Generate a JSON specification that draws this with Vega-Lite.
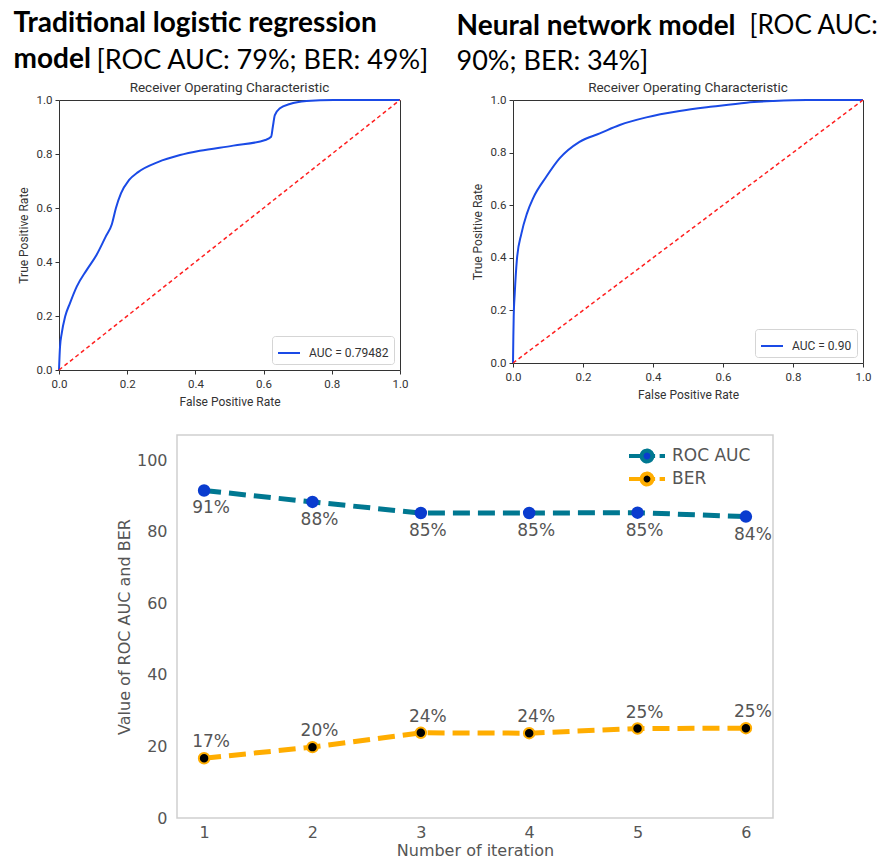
{
  "$schema": "https://vega.github.io/schema/vega-lite/v6.json",
  "background": "white",
  "padding": {"left": 13, "top": 10, "right": 0, "bottom": 0},
  "config": {"view": {"stroke": null}, "axis": {"grid": false}, "font": "DejaVu Sans"},
  "resolve": {"scale": {"color": "independent", "fill": "independent", "stroke": "independent"}, "legend": {"color": "independent"}},
  "datasets": {
    "rocLR": [
      {"fpr": 0, "tpr": 0, "curve": "AUC = 0.79482"},
      {"fpr": 0.003, "tpr": 0.086, "curve": "AUC = 0.79482"},
      {"fpr": 0.008, "tpr": 0.136, "curve": "AUC = 0.79482"},
      {"fpr": 0.018, "tpr": 0.198, "curve": "AUC = 0.79482"},
      {"fpr": 0.032, "tpr": 0.247, "curve": "AUC = 0.79482"},
      {"fpr": 0.052, "tpr": 0.309, "curve": "AUC = 0.79482"},
      {"fpr": 0.081, "tpr": 0.37, "curve": "AUC = 0.79482"},
      {"fpr": 0.11, "tpr": 0.426, "curve": "AUC = 0.79482"},
      {"fpr": 0.137, "tpr": 0.494, "curve": "AUC = 0.79482"},
      {"fpr": 0.155, "tpr": 0.54, "curve": "AUC = 0.79482"},
      {"fpr": 0.167, "tpr": 0.6, "curve": "AUC = 0.79482"},
      {"fpr": 0.182, "tpr": 0.655, "curve": "AUC = 0.79482"},
      {"fpr": 0.205, "tpr": 0.703, "curve": "AUC = 0.79482"},
      {"fpr": 0.232, "tpr": 0.733, "curve": "AUC = 0.79482"},
      {"fpr": 0.29, "tpr": 0.77, "curve": "AUC = 0.79482"},
      {"fpr": 0.355, "tpr": 0.796, "curve": "AUC = 0.79482"},
      {"fpr": 0.413, "tpr": 0.812, "curve": "AUC = 0.79482"},
      {"fpr": 0.511, "tpr": 0.831, "curve": "AUC = 0.79482"},
      {"fpr": 0.605, "tpr": 0.852, "curve": "AUC = 0.79482"},
      {"fpr": 0.622, "tpr": 0.864, "curve": "AUC = 0.79482"},
      {"fpr": 0.627, "tpr": 0.9, "curve": "AUC = 0.79482"},
      {"fpr": 0.633, "tpr": 0.944, "curve": "AUC = 0.79482"},
      {"fpr": 0.648, "tpr": 0.969, "curve": "AUC = 0.79482"},
      {"fpr": 0.677, "tpr": 0.985, "curve": "AUC = 0.79482"},
      {"fpr": 0.726, "tpr": 0.996, "curve": "AUC = 0.79482"},
      {"fpr": 0.805, "tpr": 1.0, "curve": "AUC = 0.79482"},
      {"fpr": 1.0, "tpr": 1.0, "curve": "AUC = 0.79482"}
    ],
    "rocNN": [
      {"fpr": 0, "tpr": 0, "curve": "AUC = 0.90"},
      {"fpr": 0.001, "tpr": 0.1, "curve": "AUC = 0.90"},
      {"fpr": 0.002, "tpr": 0.175, "curve": "AUC = 0.90"},
      {"fpr": 0.005, "tpr": 0.264, "curve": "AUC = 0.90"},
      {"fpr": 0.011, "tpr": 0.391, "curve": "AUC = 0.90"},
      {"fpr": 0.024, "tpr": 0.492, "curve": "AUC = 0.90"},
      {"fpr": 0.04, "tpr": 0.569, "curve": "AUC = 0.90"},
      {"fpr": 0.058, "tpr": 0.628, "curve": "AUC = 0.90"},
      {"fpr": 0.095, "tpr": 0.708, "curve": "AUC = 0.90"},
      {"fpr": 0.133, "tpr": 0.778, "curve": "AUC = 0.90"},
      {"fpr": 0.19, "tpr": 0.841, "curve": "AUC = 0.90"},
      {"fpr": 0.248, "tpr": 0.873, "curve": "AUC = 0.90"},
      {"fpr": 0.305, "tpr": 0.905, "curve": "AUC = 0.90"},
      {"fpr": 0.381, "tpr": 0.934, "curve": "AUC = 0.90"},
      {"fpr": 0.476, "tpr": 0.958, "curve": "AUC = 0.90"},
      {"fpr": 0.571, "tpr": 0.975, "curve": "AUC = 0.90"},
      {"fpr": 0.667, "tpr": 0.99, "curve": "AUC = 0.90"},
      {"fpr": 0.743, "tpr": 0.996, "curve": "AUC = 0.90"},
      {"fpr": 0.838, "tpr": 1.0, "curve": "AUC = 0.90"},
      {"fpr": 1.0, "tpr": 1.0, "curve": "AUC = 0.90"}
    ],
    "diag": [
      {"fpr": 0, "tpr": 0},
      {"fpr": 1, "tpr": 1}
    ],
    "iter": [
      {"iteration": 1, "metric": "ROC AUC", "value": 91.5, "label": "91%"},
      {"iteration": 2, "metric": "ROC AUC", "value": 88.3, "label": "88%"},
      {"iteration": 3, "metric": "ROC AUC", "value": 85.2, "label": "85%"},
      {"iteration": 4, "metric": "ROC AUC", "value": 85.2, "label": "85%"},
      {"iteration": 5, "metric": "ROC AUC", "value": 85.3, "label": "85%"},
      {"iteration": 6, "metric": "ROC AUC", "value": 84.2, "label": "84%"},
      {"iteration": 1, "metric": "BER", "value": 16.7, "label": "17%"},
      {"iteration": 2, "metric": "BER", "value": 19.8, "label": "20%"},
      {"iteration": 3, "metric": "BER", "value": 23.8, "label": "24%"},
      {"iteration": 4, "metric": "BER", "value": 23.7, "label": "24%"},
      {"iteration": 5, "metric": "BER", "value": 25.0, "label": "25%"},
      {"iteration": 6, "metric": "BER", "value": 25.1, "label": "25%"}
    ]
  },
  "spacing": 26,
  "vconcat": [
    {
      "spacing": 454,
      "bounds": "flush",
      "resolve": {"scale": {"color": "independent"}, "legend": {"color": "independent"}},
      "hconcat": [
        {
          "title": {"text": ["Traditional logistic regression", "model"], "anchor": "start", "frame": "bounds", "font": "Lato", "fontSize": 28, "fontWeight": "bold", "color": "#000", "lineHeight": 36, "offset": -27, "dx": -3},
          "resolve": {"scale": {"color": "independent"}, "legend": {"color": "independent"}},
          "vconcat": [
            {
              "title": {"text": "[ROC AUC: 79%; BER: 49%]", "anchor": "start", "frame": "bounds", "font": "Lato", "fontSize": 27, "fontWeight": "normal", "color": "#000", "offset": 5, "dx": 80},
              "resolve": {"scale": {"color": "independent"}, "legend": {"color": "independent"}},
              "vconcat": [
                {
                  "width": 341,
                  "height": 270,
                  "title": {"text": "Receiver Operating Characteristic", "font": "Roboto", "fontSize": 13.5, "fontWeight": "normal", "color": "#333", "offset": 0},
                  "view": {"stroke": "#333", "strokeWidth": 1},
                  "layer": [
                    {
                      "data": {"name": "rocLR"},
                      "mark": {"type": "line", "strokeWidth": 2, "interpolate": "monotone"},
                      "encoding": {
                        "x": {"field": "fpr", "type": "quantitative", "scale": {"domain": [0, 1], "nice": false, "zero": false},
                          "axis": {"title": "False Positive Rate", "values": [0, 0.2, 0.4, 0.6, 0.8, 1], "format": ".1f", "domain": false, "tickSize": 4, "tickColor": "#333", "labelFont": "Roboto", "labelFontSize": 11.5, "labelColor": "#333", "labelPadding": 4, "labelFlush": false, "labelOverlap": false, "titleFont": "Roboto", "titleFontSize": 12, "titleFontWeight": "normal", "titleColor": "#333", "titlePadding": 7}},
                        "y": {"field": "tpr", "type": "quantitative", "scale": {"domain": [0, 1], "nice": false, "zero": false},
                          "axis": {"title": "True Positive Rate", "values": [0, 0.2, 0.4, 0.6, 0.8, 1], "format": ".1f", "domain": false, "tickSize": 4, "tickColor": "#333", "labelFont": "Roboto", "labelFontSize": 11.5, "labelColor": "#333", "labelPadding": 3, "labelFlush": false, "labelOverlap": false, "titleFont": "Roboto", "titleFontSize": 12, "titleFontWeight": "normal", "titleColor": "#333", "titlePadding": 6}},
                        "color": {"field": "curve", "type": "nominal", "scale": {"range": ["#1a4ae6"]},
                          "legend": {"title": null, "orient": "bottom-right", "offset": 6, "padding": 5, "strokeColor": "#d5d5d5", "fillColor": "white", "cornerRadius": 3, "symbolType": "stroke", "symbolSize": 484, "symbolStrokeWidth": 2, "labelFont": "Roboto", "labelFontSize": 12, "labelColor": "#333", "labelOffset": 8}}
                      }
                    },
                    {
                      "data": {"name": "diag"},
                      "mark": {"type": "line", "color": "#ff1f1f", "strokeWidth": 1.5, "strokeDash": [4, 3]},
                      "encoding": {"x": {"field": "fpr", "type": "quantitative"}, "y": {"field": "tpr", "type": "quantitative"}}
                    }
                  ]
                }
              ]
            }
          ]
        },
        {
          "title": {"text": "Neural network model", "subtitle": "90%; BER: 34%]", "anchor": "start", "frame": "bounds", "font": "Lato", "fontSize": 28, "fontWeight": "bold", "color": "#000", "subtitleFont": "Lato", "subtitleFontSize": 27, "subtitleFontWeight": "normal", "subtitleColor": "#000", "subtitlePadding": 8, "offset": -62, "dx": -14},
          "resolve": {"scale": {"color": "independent"}, "legend": {"color": "independent"}},
          "vconcat": [
            {
              "title": {"text": "[ROC AUC:", "anchor": "start", "frame": "bounds", "font": "Lato", "fontSize": 26, "fontWeight": "normal", "color": "#000", "offset": 41, "dx": 279},
              "resolve": {"scale": {"color": "independent"}, "legend": {"color": "independent"}},
              "vconcat": [
                {
                  "width": 350,
                  "height": 263,
                  "title": {"text": "Receiver Operating Characteristic", "font": "Roboto", "fontSize": 13.5, "fontWeight": "normal", "color": "#333", "offset": 0},
                  "view": {"stroke": "#333", "strokeWidth": 1},
                  "layer": [
                    {
                      "data": {"name": "rocNN"},
                      "mark": {"type": "line", "strokeWidth": 2, "interpolate": "monotone"},
                      "encoding": {
                        "x": {"field": "fpr", "type": "quantitative", "scale": {"domain": [0, 1], "nice": false, "zero": false},
                          "axis": {"title": "False Positive Rate", "values": [0, 0.2, 0.4, 0.6, 0.8, 1], "format": ".1f", "domain": false, "tickSize": 4, "tickColor": "#333", "labelFont": "Roboto", "labelFontSize": 11.5, "labelColor": "#333", "labelPadding": 4, "labelFlush": false, "labelOverlap": false, "titleFont": "Roboto", "titleFontSize": 12, "titleFontWeight": "normal", "titleColor": "#333", "titlePadding": 7}},
                        "y": {"field": "tpr", "type": "quantitative", "scale": {"domain": [0, 1], "nice": false, "zero": false},
                          "axis": {"title": "True Positive Rate", "values": [0, 0.2, 0.4, 0.6, 0.8, 1], "format": ".1f", "domain": false, "tickSize": 4, "tickColor": "#333", "labelFont": "Roboto", "labelFontSize": 11.5, "labelColor": "#333", "labelPadding": 3, "labelFlush": false, "labelOverlap": false, "titleFont": "Roboto", "titleFontSize": 12, "titleFontWeight": "normal", "titleColor": "#333", "titlePadding": 6}},
                        "color": {"field": "curve", "type": "nominal", "scale": {"range": ["#1a4ae6"]},
                          "legend": {"title": null, "orient": "bottom-right", "offset": 6, "padding": 5, "strokeColor": "#d5d5d5", "fillColor": "white", "cornerRadius": 3, "symbolType": "stroke", "symbolSize": 484, "symbolStrokeWidth": 2, "labelFont": "Roboto", "labelFontSize": 12, "labelColor": "#333", "labelOffset": 8}}
                      }
                    },
                    {
                      "data": {"name": "diag"},
                      "mark": {"type": "line", "color": "#ff1f1f", "strokeWidth": 1.5, "strokeDash": [4, 3]},
                      "encoding": {"x": {"field": "fpr", "type": "quantitative"}, "y": {"field": "tpr", "type": "quantitative"}}
                    }
                  ]
                }
              ]
            }
          ]
        }
      ]
    },
    {
      "spacing": 0,
      "bounds": "flush",
      "resolve": {"scale": {"color": "independent", "fill": "independent", "stroke": "independent"}, "legend": {"color": "independent"}},
      "hconcat": [
        {"width": 118, "height": 10, "data": {"values": []}, "mark": "point", "encoding": {}},
        {
          "width": 596,
          "height": 383,
          "view": {"stroke": "#cfcfcf", "strokeWidth": 1.5},
          "data": {"name": "iter"},
          "encoding": {
            "x": {"field": "iteration", "type": "quantitative", "scale": {"domain": [0.75, 6.25], "nice": false, "zero": false},
              "axis": {"values": [1, 2, 3, 4, 5, 6], "title": "Number of iteration", "domain": false, "ticks": false, "labelFont": "DejaVu Sans", "labelFontSize": 16, "labelColor": "#555", "labelPadding": 6, "labelFlush": false, "titleFont": "DejaVu Sans", "titleFontSize": 16, "titleFontWeight": "normal", "titleColor": "#555", "titlePadding": 2}},
            "y": {"field": "value", "type": "quantitative", "scale": {"domain": [0, 107], "nice": false},
              "axis": {"values": [0, 20, 40, 60, 80, 100], "title": "Value of ROC AUC and BER", "domain": false, "ticks": false, "labelFont": "DejaVu Sans", "labelFontSize": 16, "labelColor": "#555", "labelPadding": 10, "labelFlush": false, "titleFont": "DejaVu Sans", "titleFontSize": 16, "titleFontWeight": "normal", "titleColor": "#555", "titlePadding": 4}}
          },
          "layer": [
            {
              "mark": {"type": "line", "strokeWidth": 5, "strokeDash": [17, 8]},
              "encoding": {
                "color": {"field": "metric", "type": "nominal", "scale": {"domain": ["ROC AUC", "BER"], "range": ["#007891", "#ffad00"]},
                  "legend": {"title": null, "orient": "none", "legendX": 450, "legendY": 11, "padding": 0, "labelFont": "DejaVu Sans", "labelFontSize": 17, "labelColor": "#555", "labelOffset": 5, "symbolType": "M-1,0H-0.3M0.3,0H0.45M0.7,0H1M-0.3,0A0.3,0.3 0 1 0 0.3,0A0.3,0.3 0 1 0 -0.3,0", "symbolSize": 1296, "symbolStrokeWidth": 4, "clipHeight": 20, "rowPadding": 3,
                    "encode": {"symbols": {"update": {"fill": {"signal": "datum.value === 'ROC AUC' ? '#0a3ccf' : '#000000'"}, "strokeDash": {"value": [1, 0]}}}}}}
              }
            },
            {
              "mark": {"type": "point", "filled": true, "size": 110, "strokeWidth": 2, "opacity": 1},
              "encoding": {
                "fill": {"field": "metric", "type": "nominal", "scale": {"domain": ["ROC AUC", "BER"], "range": ["#0a3ccf", "#000000"]}, "legend": null},
                "stroke": {"field": "metric", "type": "nominal", "scale": {"domain": ["ROC AUC", "BER"], "range": ["#0a3ccf", "#ffad00"]}, "legend": null}
              }
            },
            {
              "transform": [{"filter": "datum.metric === 'ROC AUC'"}],
              "mark": {"type": "text", "dx": 7, "dy": 18, "fontSize": 17, "color": "#555", "font": "DejaVu Sans"},
              "encoding": {"text": {"field": "label"}}
            },
            {
              "transform": [{"filter": "datum.metric === 'BER'"}],
              "mark": {"type": "text", "dx": 7, "dy": -16, "fontSize": 17, "color": "#555", "font": "DejaVu Sans"},
              "encoding": {"text": {"field": "label"}}
            }
          ]
        }
      ]
    }
  ]
}
